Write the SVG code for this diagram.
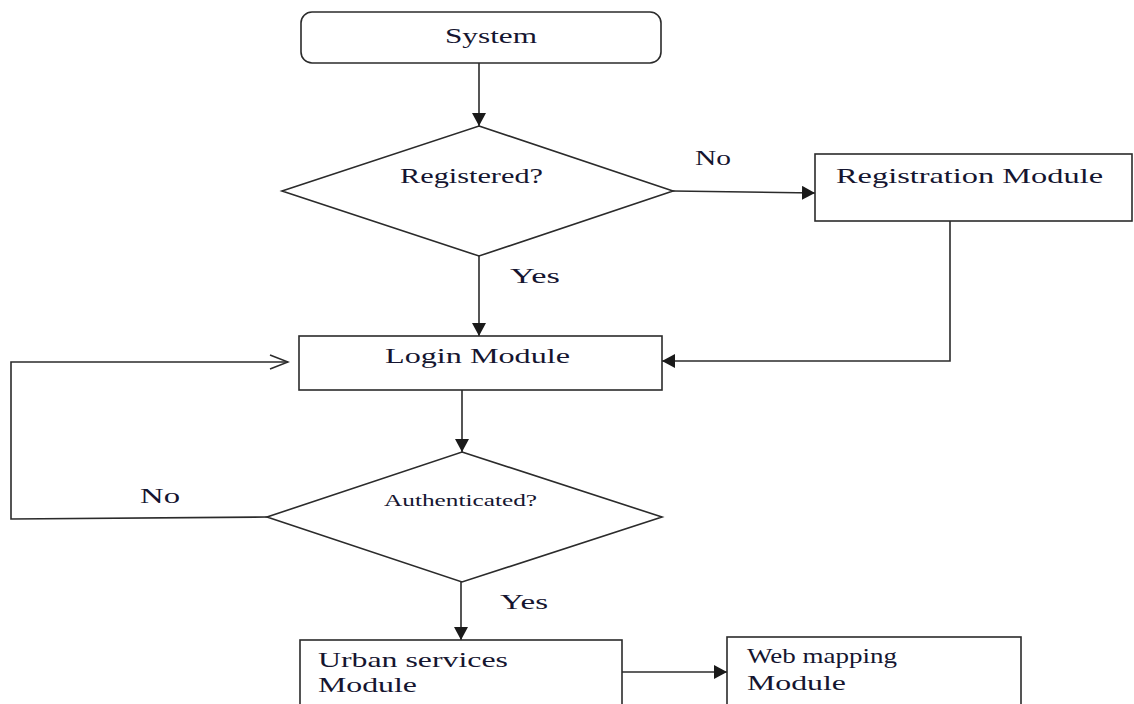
<svg xmlns="http://www.w3.org/2000/svg" width="1134" height="704" viewBox="0 0 1134 704">
  <style>
    .shape { fill: #ffffff; stroke: #2b2b2b; stroke-width: 1.6; }
    .edge { fill: none; stroke: #2b2b2b; stroke-width: 1.6; }
    .lbl { font-family: "Liberation Serif", "Times New Roman", serif; fill: #151530; }
  </style>
  <defs>
    <marker id="arrow" markerWidth="14" markerHeight="14" viewBox="0 0 14 14" refX="13" refY="7" orient="auto" markerUnits="userSpaceOnUse">
      <path d="M0,0 L13,7 L0,14 Z" fill="#1a1a1a"/>
    </marker>
    <marker id="open" markerWidth="22" markerHeight="18" viewBox="0 0 22 18" refX="20" refY="9" orient="auto" markerUnits="userSpaceOnUse">
      <path d="M2,2 L20,9 L2,16" fill="none" stroke="#2b2b2b" stroke-width="1.6"/>
    </marker>
  </defs>

  <rect width="1134" height="704" fill="#ffffff"/>

  <!-- connectors -->
  <g id="connectors">
    <line class="edge" x1="479" y1="63" x2="479" y2="126" marker-end="url(#arrow)"/>
    <line class="edge" x1="673" y1="191" x2="815" y2="193" marker-end="url(#arrow)"/>
    <line class="edge" x1="479" y1="256" x2="479" y2="336" marker-end="url(#arrow)"/>
    <polyline class="edge" points="950,221 950,361 662,361" marker-end="url(#arrow)"/>
    <line class="edge" x1="462" y1="390" x2="462" y2="452" marker-end="url(#arrow)"/>
    <polyline class="edge" points="267,517 11,519 11,362 288,362" marker-end="url(#open)"/>
    <line class="edge" x1="461" y1="582" x2="461" y2="640" marker-end="url(#arrow)"/>
    <line class="edge" x1="622" y1="672" x2="727" y2="672" marker-end="url(#arrow)"/>
    <text class="lbl" x="695" y="165" font-size="20" textLength="36" lengthAdjust="spacingAndGlyphs">No</text>
    <text class="lbl" x="510" y="283" font-size="22" textLength="50" lengthAdjust="spacingAndGlyphs">Yes</text>
    <text class="lbl" x="140" y="503" font-size="20" textLength="40" lengthAdjust="spacingAndGlyphs">No</text>
    <text class="lbl" x="500" y="609" font-size="22" textLength="48" lengthAdjust="spacingAndGlyphs">Yes</text>
  </g>

  <!-- start -->
  <g id="system">
    <rect class="shape" x="301" y="12" width="360" height="51" rx="11" ry="11"/>
    <text class="lbl" x="445" y="43" font-size="22" textLength="92" lengthAdjust="spacingAndGlyphs">System</text>
  </g>

  <!-- decision: registered -->
  <g id="registered">
    <polygon class="shape" points="479,126 673,191 479,256 282,191"/>
    <text class="lbl" x="400" y="183" font-size="21" textLength="143" lengthAdjust="spacingAndGlyphs">Registered?</text>
  </g>

  <g id="registration">
    <rect class="shape" x="815" y="154" width="317" height="67"/>
    <text class="lbl" x="836" y="183" font-size="22" textLength="267" lengthAdjust="spacingAndGlyphs">Registration Module</text>
  </g>

  <g id="login">
    <rect class="shape" x="299" y="336" width="363" height="54"/>
    <text class="lbl" x="385" y="363" font-size="21" textLength="185" lengthAdjust="spacingAndGlyphs">Login Module</text>
  </g>

  <!-- decision: authenticated -->
  <g id="authenticated">
    <polygon class="shape" points="462,452 662,517 462,582 267,517"/>
    <text class="lbl" x="384" y="506" font-size="16" textLength="153" lengthAdjust="spacingAndGlyphs">Authenticated?</text>
  </g>

  <g id="urban">
    <rect class="shape" x="300" y="640" width="322" height="72"/>
    <text class="lbl" x="318" y="667" font-size="21" textLength="190" lengthAdjust="spacingAndGlyphs">Urban services</text>
    <text class="lbl" x="318" y="692" font-size="21" textLength="99" lengthAdjust="spacingAndGlyphs">Module</text>
  </g>

  <g id="webmapping">
    <rect class="shape" x="727" y="637" width="294" height="75"/>
    <text class="lbl" x="747" y="663" font-size="21" textLength="150" lengthAdjust="spacingAndGlyphs">Web mapping</text>
    <text class="lbl" x="747" y="690" font-size="21" textLength="99" lengthAdjust="spacingAndGlyphs">Module</text>
  </g>
</svg>
